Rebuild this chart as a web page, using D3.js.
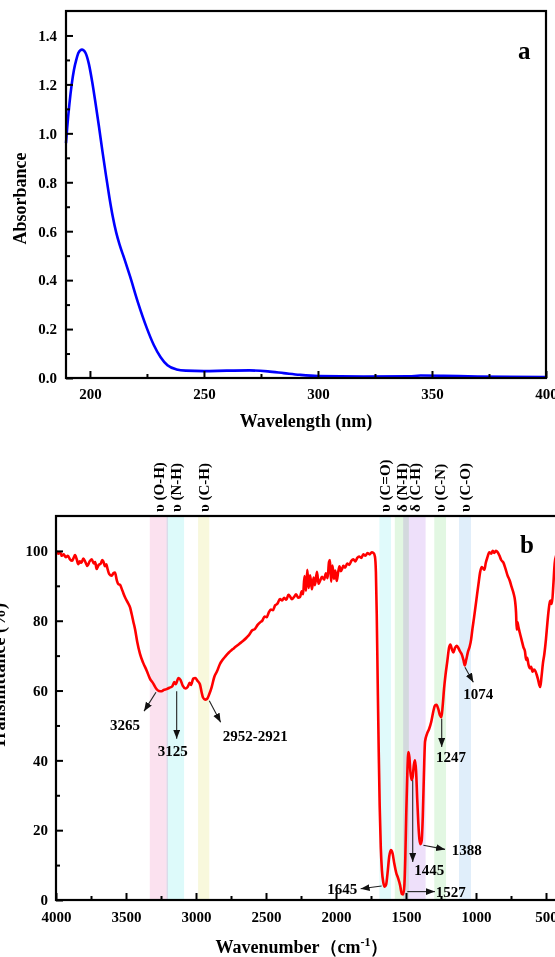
<!DOCTYPE html>
<html>
<head>
<meta charset="utf-8">
<script src="https://cdnjs.cloudflare.com/ajax/libs/d3/7.8.5/d3.min.js"></script>
<style>
  body { margin: 0; background: #fff; }
  svg { display: block; font-family: 'Liberation Serif', 'Times New Roman', serif; font-weight: bold; }
</style>
</head>
<body>
<svg id="chart" width="555" height="957"></svg>
<script>
// panel a : UV absorbance
var uvWavelength = [189.5, 190, 191, 192, 193, 194, 195, 196.5, 198, 199.5,
  201, 202.5, 204, 205.5, 207, 208.5, 210, 211.5, 213, 215,
  217.6, 221, 224.9, 228, 231, 234, 238, 242, 250, 260,
  270, 278, 285, 292, 300, 320, 340, 345, 355, 370, 400];
var uvAbsorbance = [0.96, 1.02, 1.12, 1.20, 1.26, 1.30, 1.33, 1.342, 1.33, 1.285,
  1.21, 1.12, 1.025, 0.925, 0.83, 0.74, 0.66, 0.595, 0.545, 0.49,
  0.415, 0.31, 0.205, 0.135, 0.085, 0.052, 0.035, 0.03, 0.028, 0.03,
  0.031, 0.027, 0.02, 0.013, 0.008, 0.006, 0.007, 0.01, 0.009, 0.006, 0.004];
var uvXTicks = [200, 250, 300, 350, 400];
var uvYTicks = [0, 0.2, 0.4, 0.6, 0.8, 1.0, 1.2, 1.4];

// panel b : FTIR transmittance
var irWavenumber = [4000, 3985, 3970, 3959, 3945, 3930, 3915, 3900, 3885, 3874,
  3864, 3852, 3841, 3830, 3818, 3805, 3790, 3776, 3760, 3745,
  3730, 3720, 3710, 3695, 3680, 3670, 3662, 3650, 3640, 3634,
  3620, 3602, 3590, 3579, 3565, 3555, 3543, 3531, 3520, 3507,
  3490, 3471, 3460, 3448, 3435, 3420, 3400, 3378, 3352, 3330,
  3305, 3285, 3265, 3245, 3230, 3210, 3190, 3170, 3155, 3145,
  3125, 3110, 3095, 3075, 3060, 3045, 3035, 3020, 3005, 2990,
  2972, 2960, 2950, 2935, 2921, 2905, 2888, 2870, 2850, 2829,
  2810, 2790, 2765, 2745, 2733, 2715, 2690, 2665, 2638, 2620,
  2600, 2580, 2560, 2543, 2525, 2510, 2495, 2480, 2465, 2450,
  2435, 2420, 2400, 2385, 2370, 2355, 2340, 2329, 2315, 2300,
  2285, 2270, 2257, 2245, 2235, 2225, 2214, 2205, 2195, 2185,
  2172, 2160, 2150, 2136, 2125, 2114, 2100, 2085, 2072, 2060,
  2050, 2043, 2035, 2025, 2015, 2005, 1995, 1985, 1975, 1965,
  1955, 1948, 1935, 1920, 1905, 1890, 1876, 1862, 1848, 1835,
  1820, 1805, 1790, 1775, 1760, 1745, 1732, 1722, 1715, 1709,
  1702, 1695, 1688, 1680, 1672, 1662, 1652, 1642, 1632, 1620,
  1608, 1596, 1584, 1570, 1556, 1542, 1530, 1520, 1512, 1505,
  1498, 1490, 1483, 1476, 1468, 1460, 1452, 1444, 1436, 1428,
  1420, 1412, 1404, 1396, 1388, 1380, 1372, 1364, 1350, 1335,
  1320, 1305, 1293, 1282, 1270, 1258, 1247, 1238, 1228, 1218,
  1205, 1192, 1183, 1172, 1162, 1150, 1138, 1126, 1114, 1102,
  1090, 1080, 1070, 1058, 1045, 1035, 1025, 1015, 1005, 992,
  980, 971, 960, 950, 940, 930, 918, 905, 892, 880,
  870, 858, 845, 832, 820, 805, 790, 775, 760, 745,
  730, 721, 714, 709, 704, 698, 690, 680, 670, 661,
  650, 642, 634, 626, 616, 606, 596, 586, 576, 567,
  557, 548, 541, 532, 522, 512, 500, 490, 480, 471,
  464, 458, 448, 438, 428, 418, 400];
var irTransmittance = [100, 99.2, 99.6, 98.6, 99.0, 98.2, 98.6, 97.6, 97.2, 98.0,
  98.8, 97.6, 96.2, 97.0, 96.6, 97.8, 96.8, 95.7, 97.0, 97.6,
  96.4, 96.8, 94.8, 96.0, 96.4, 97.4, 97.0, 95.6, 96.2, 95.2,
  93.4, 92.9, 93.6, 93.8, 91.5, 90.5, 90.3, 89.2, 88.0, 86.7,
  85.4, 83.8, 82.0, 79.8, 77.5, 74.0, 70.5, 68.0, 65.7, 63.5,
  62.0, 60.6, 59.9, 59.8, 60.2, 60.4, 60.8, 61.2, 62.4, 61.8,
  63.6, 63.0, 61.4, 60.6, 61.0, 62.2, 61.6, 63.4, 63.6, 62.8,
  61.8, 59.5, 58.0, 57.4, 57.6, 59.0, 61.0, 63.8, 65.5, 67.6,
  68.8, 69.8, 70.9, 71.6, 72.0, 72.6, 73.4, 74.2, 75.2, 76.0,
  77.2, 77.6, 78.8, 79.5, 80.1, 81.2, 81.0, 82.4, 83.2, 83.0,
  84.4, 84.8, 86.2, 85.8, 86.6, 86.0, 87.4, 87.0, 86.2, 86.8,
  87.6, 86.6, 86.8, 88.4, 87.6, 92.8, 88.6, 94.6, 89.4, 93.0,
  89.0, 92.4, 90.2, 94.0, 90.6, 91.4, 92.6, 91.8, 93.6, 92.2,
  96.8, 97.4, 91.2, 95.8, 92.0, 94.4, 91.4, 93.8, 95.6, 94.2,
  95.0, 95.7, 95.2, 96.4, 96.0, 97.2, 97.6, 97.0, 98.0, 98.4,
  98.0, 99.0, 98.6, 99.4, 99.0, 99.6, 99.4, 98.4, 94.0, 82.0,
  62.0, 43.0, 27.0, 15.0, 8.5, 5.0, 3.8, 4.4, 7.6, 12.4,
  14.3, 13.4, 10.5, 7.8, 6.2, 4.2, 1.8, 1.6, 4.0, 12.0,
  25.0, 37.0, 42.4, 41.0, 36.5, 34.4, 35.4, 38.6, 40.0, 37.0,
  29.0, 22.0, 17.4, 16.0, 17.0, 24.0, 36.0, 45.4, 47.6, 49.0,
  51.0, 54.0, 55.7, 55.9, 54.8, 53.0, 52.4, 55.6, 60.6, 64.4,
  68.4, 72.4, 73.2, 71.8, 70.9, 72.2, 72.8, 72.2, 71.2, 70.4,
  68.8, 67.2, 68.8, 71.0, 72.6, 74.6, 77.8, 80.6, 83.6, 87.6,
  91.2, 93.8, 95.4, 95.0, 94.6, 96.6, 98.2, 99.6, 99.2, 100.0,
  99.4, 100.0, 99.6, 98.6, 97.4, 96.7, 95.0, 93.0, 91.6, 89.6,
  87.6, 85.7, 82.4, 77.4, 79.6, 78.4, 77.0, 75.4, 73.8, 72.4,
  71.2, 68.8, 69.4, 67.6, 66.4, 66.8, 65.4, 66.0, 65.6, 64.6,
  63.2, 61.6, 61.0, 64.0, 67.8, 70.4, 74.8, 79.4, 83.4, 85.6,
  85.8, 84.8, 90.0, 96.4, 98.6, 99.2, 99.0];
var irXTicks = [4000, 3500, 3000, 2500, 2000, 1500, 1000, 500];
var irYTicks = [0, 20, 40, 60, 80, 100];

// assignment bands (cm-1)
var bandLabels = ['υ (O-H)', 'υ (N-H)', 'υ (C-H)', 'υ (C=O)', 'δ (N-H)', 'δ (C-H)', 'υ (C-N)', 'υ (C-O)'];
var bandFrom = [3330, 3210, 2985, 1690, 1580, 1520, 1298, 1121];
var bandTo = [3200, 3085, 2905, 1607, 1480, 1360, 1214, 1036];
var bandColors = ['#fbe1ef', '#ddfafa', '#f8f8dc', '#e0fafb', '#e2f7e2', '#eee0fa', '#e2f7e2', '#e0eefa'];

// peak annotations (arrow from -> to, then label)
var peakLabels = ['3265', '3125', '2952-2921', '1074', '1247', '1445', '1388', '1645', '1527'];
var peakFromX = [3286, 3138, 2905, 1079, 1245, 1452, 1376, 1674, 1491];
var peakFromY = [59.5, 59.8, 57.1, 66.7, 51.9, 34.3, 15.7, 4.0, 2.4];
var peakToX = [3371, 3138, 2824, 1019, 1245, 1452, 1221, 1824, 1293];
var peakToY = [54.1, 46.2, 50.9, 62.4, 43.8, 10.9, 14.5, 3.2, 2.4];
var peakTextX = [3507, 3166, 2809, 984, 1179, 1334, 1174, 1848, 1288];
var peakTextY = [50.3, 42.7, 47.1, 59.2, 40.9, 8.7, 14.3, 3.3, 2.4];
var peakAnchor = ['middle', 'middle', 'start', 'middle', 'middle', 'middle', 'start', 'end', 'start'];

var svg = d3.select('#chart');

// arrow head
svg.append('defs').append('marker')
  .attr('id', 'head')
  .attr('markerUnits', 'userSpaceOnUse')
  .attr('markerWidth', 10).attr('markerHeight', 8)
  .attr('refX', 9).attr('refY', 3.5)
  .attr('orient', 'auto')
  .append('path')
  .attr('d', 'M0,0 L9,3.5 L0,7 Z')
  .attr('fill', '#111');

function midpoints(arr) {
  return d3.pairs(arr, function(p, q) { return (p + q) / 2; });
}

function styleAxis(g) {
  g.attr('font-family', null).attr('font-size', null);
  g.select('.domain').remove();
  g.selectAll('line').attr('stroke', '#000').attr('stroke-width', 2);
  g.selectAll('text').attr('font-size', 15).attr('fill', '#000');
}

//------------------ panel a
var pa = {left: 66, right: 546, top: 11, bottom: 378};
var xUV = d3.scaleLinear().domain([189.5, 400]).range([pa.left, pa.right]);
var yUV = d3.scaleLinear().domain([0, 1.5]).range([pa.bottom, pa.top]);

var uvData = uvWavelength.map(function(w, i) { return [w, uvAbsorbance[i]]; });

svg.append('path')
  .datum(uvData)
  .attr('fill', 'none')
  .attr('stroke', '#0000ff')
  .attr('stroke-width', 2.6)
  .attr('d', d3.line()
    .x(function(d) { return xUV(d[0]); })
    .y(function(d) { return yUV(d[1]); })
    .curve(d3.curveMonotoneX));

svg.append('g')
  .attr('transform', 'translate(0,' + pa.bottom + ')')
  .call(d3.axisBottom(xUV).tickValues(uvXTicks).tickSize(-7).tickPadding(10).tickFormat(d3.format('d')))
  .call(styleAxis);
svg.append('g')
  .attr('transform', 'translate(0,' + pa.bottom + ')')
  .call(d3.axisBottom(xUV).tickValues(midpoints(uvXTicks)).tickSize(-4).tickFormat(''))
  .call(styleAxis);
svg.append('g')
  .attr('transform', 'translate(' + pa.left + ',0)')
  .call(d3.axisLeft(yUV).tickValues(uvYTicks).tickSize(-7).tickPadding(9).tickFormat(d3.format('.1f')))
  .call(styleAxis);
svg.append('g')
  .attr('transform', 'translate(' + pa.left + ',0)')
  .call(d3.axisLeft(yUV).tickValues(midpoints(uvYTicks)).tickSize(-4).tickFormat(''))
  .call(styleAxis);

svg.append('rect')
  .attr('x', pa.left).attr('y', pa.top)
  .attr('width', pa.right - pa.left).attr('height', pa.bottom - pa.top)
  .attr('fill', 'none').attr('stroke', '#000').attr('stroke-width', 2.2);

svg.append('text')
  .attr('x', (pa.left + pa.right) / 2).attr('y', 427)
  .attr('text-anchor', 'middle').attr('font-size', 18)
  .text('Wavelength (nm)');
svg.append('text')
  .attr('transform', 'translate(26,' + ((pa.top + pa.bottom) / 2 + 4) + ') rotate(-90)')
  .attr('text-anchor', 'middle').attr('font-size', 18)
  .text('Absorbance');
svg.append('text')
  .attr('x', 518).attr('y', 59)
  .attr('font-size', 25)
  .text('a');

//------------------ panel b
var pb = {left: 56, right: 560, top: 516, bottom: 900};
var xIR = d3.scaleLinear().domain([4000, 400]).range([pb.left, pb.right]);
var yIR = d3.scaleLinear().domain([0, 110]).range([pb.bottom, pb.top]);

// shaded bands
svg.append('g').selectAll('rect')
  .data(bandLabels)
  .enter()
  .append('rect')
  .attr('x', function(d, i) { return xIR(bandFrom[i]); })
  .attr('width', function(d, i) { return xIR(bandTo[i]) - xIR(bandFrom[i]); })
  .attr('y', pb.top)
  .attr('height', pb.bottom - pb.top)
  .attr('fill', function(d, i) { return bandColors[i]; })
  .style('mix-blend-mode', 'multiply');

svg.append('g').selectAll('text')
  .data(bandLabels)
  .enter()
  .append('text')
  .attr('transform', function(d, i) {
    var cx = xIR((bandFrom[i] + bandTo[i]) / 2);
    return 'translate(' + cx + ',512) rotate(-90)';
  })
  .attr('dy', '0.35em')
  .attr('font-size', 15)
  .text(function(d) { return d; });

var irData = irWavenumber.map(function(w, i) { return [w, irTransmittance[i]]; });

svg.append('path')
  .datum(irData)
  .attr('fill', 'none')
  .attr('stroke', '#ff0000')
  .attr('stroke-width', 2.6)
  .attr('stroke-linejoin', 'round')
  .attr('d', d3.line()
    .x(function(d) { return xIR(d[0]); })
    .y(function(d) { return yIR(d[1]); })
    .curve(d3.curveMonotoneX));

// peak arrows
var peaks = svg.append('g');
peaks.selectAll('line')
  .data(peakLabels)
  .enter()
  .append('line')
  .attr('x1', function(d, i) { return xIR(peakFromX[i]); })
  .attr('y1', function(d, i) { return yIR(peakFromY[i]); })
  .attr('x2', function(d, i) { return xIR(peakToX[i]); })
  .attr('y2', function(d, i) { return yIR(peakToY[i]); })
  .attr('stroke', '#222')
  .attr('stroke-width', 1.1)
  .attr('marker-end', 'url(#head)');
peaks.selectAll('text')
  .data(peakLabels)
  .enter()
  .append('text')
  .attr('x', function(d, i) { return xIR(peakTextX[i]); })
  .attr('y', function(d, i) { return yIR(peakTextY[i]); })
  .attr('dy', '0.35em')
  .attr('text-anchor', function(d, i) { return peakAnchor[i]; })
  .attr('font-size', 15)
  .text(function(d) { return d; });

svg.append('g')
  .attr('transform', 'translate(0,' + pb.bottom + ')')
  .call(d3.axisBottom(xIR).tickValues(irXTicks).tickSize(-7).tickPadding(11).tickFormat(d3.format('d')))
  .call(styleAxis);
svg.append('g')
  .attr('transform', 'translate(0,' + pb.bottom + ')')
  .call(d3.axisBottom(xIR).tickValues(midpoints(irXTicks)).tickSize(-4).tickFormat(''))
  .call(styleAxis);
svg.append('g')
  .attr('transform', 'translate(' + pb.left + ',0)')
  .call(d3.axisLeft(yIR).tickValues(irYTicks).tickSize(-7).tickPadding(8).tickFormat(d3.format('d')))
  .call(styleAxis);
svg.append('g')
  .attr('transform', 'translate(' + pb.left + ',0)')
  .call(d3.axisLeft(yIR).tickValues(midpoints(irYTicks)).tickSize(-4).tickFormat(''))
  .call(styleAxis);

svg.append('rect')
  .attr('x', pb.left).attr('y', pb.top)
  .attr('width', pb.right - pb.left).attr('height', pb.bottom - pb.top)
  .attr('fill', 'none').attr('stroke', '#000').attr('stroke-width', 2.2);

var xt = svg.append('text')
  .attr('x', 302).attr('y', 953)
  .attr('text-anchor', 'middle').attr('font-size', 18);
xt.append('tspan').text('Wavenumber（cm');
xt.append('tspan').attr('dy', -7).attr('font-size', 12).text('-1');
xt.append('tspan').attr('dy', 7).text('）');

// partly outside the page, as in the original figure
svg.append('text')
  .attr('transform', 'translate(5,676) rotate(-90)')
  .attr('text-anchor', 'middle').attr('font-size', 18)
  .text('Transmittance (%)');
svg.append('text')
  .attr('x', 520).attr('y', 553)
  .attr('font-size', 25)
  .text('b');
</script>
</body>
</html>
